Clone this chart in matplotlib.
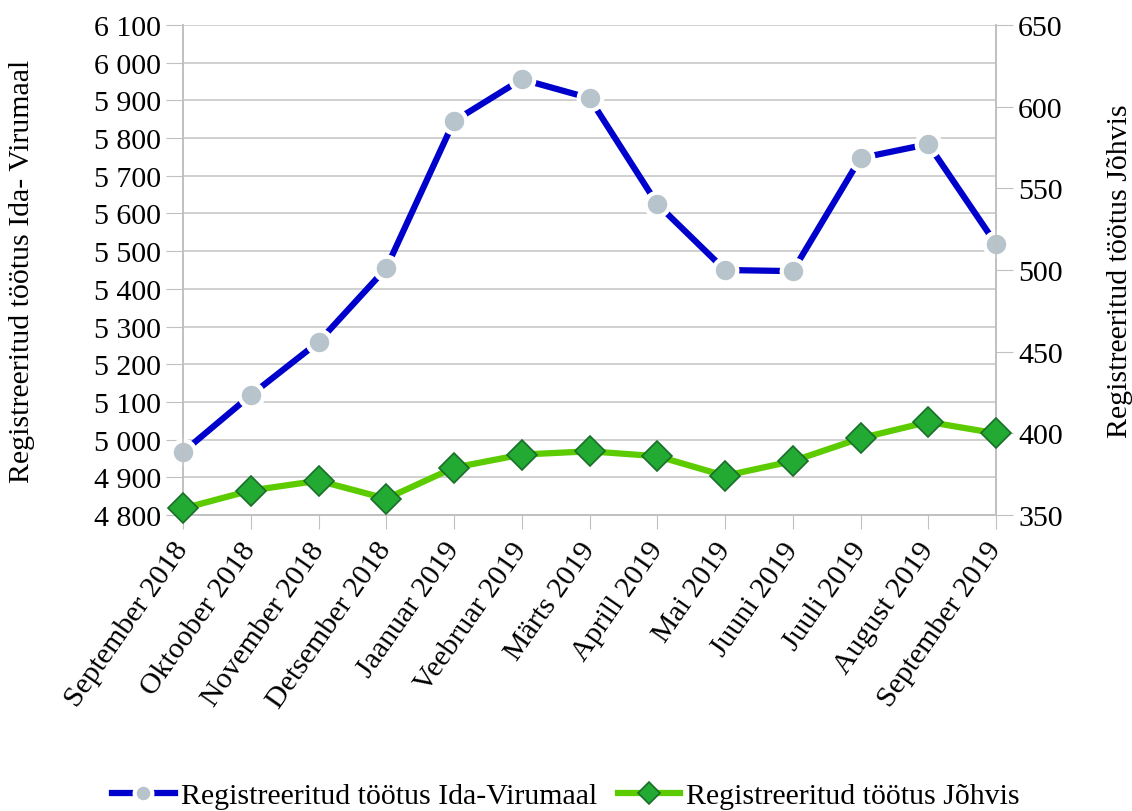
import matplotlib
matplotlib.use("Agg")
import matplotlib.pyplot as plt
from matplotlib.ticker import FuncFormatter, FixedLocator

months = ["September 2018", "Oktoober 2018", "November 2018", "Detsember 2018",
          "Jaanuar 2019", "Veebruar 2019", "Märts 2019", "Aprill 2019",
          "Mai 2019", "Juuni 2019", "Juuli 2019", "August 2019", "September 2019"]
ida_viru = [4967, 5118, 5259, 5455, 5845, 5956, 5906, 5625, 5450, 5447, 5747, 5784, 5519]
johvi = [354, 365, 371, 360, 379, 387, 389, 386, 374, 383, 397, 407, 400]
left_ticks = list(range(4800, 6101, 100))
right_ticks = list(range(350, 651, 50))

plt.rcParams['font.family'] = ['Liberation Serif', 'DejaVu Serif']
fs = 21.5

fig = plt.figure(figsize=(11.32, 8.12), dpi=100)
ax = fig.add_axes([183/1132, 1-516/812, (996-183)/1132, (516-26)/812])
ax2 = ax.twinx()

x = list(range(len(months)))
ax.set_xlim(0, len(months) - 1)
ax.set_ylim(4800, 6100)
ax2.set_ylim(350, 650)
ax.yaxis.set_major_locator(FixedLocator(left_ticks))
ax2.yaxis.set_major_locator(FixedLocator(right_ticks))
ax.yaxis.set_major_formatter(FuncFormatter(lambda v, p: f"{int(v):,}".replace(",", " ")))

ax.grid(axis='y', color='#c8c8c8', lw=1.2)
ax.set_axisbelow(True)
for a in (ax, ax2):
    for s in a.spines.values():
        s.set_color('#c0c0c0')
        s.set_linewidth(1.2)
    a.spines['top'].set_visible(False)
ax.tick_params(axis='y', length=12, color='#c0c0c0', labelsize=fs, pad=4)
ax2.tick_params(axis='y', length=12, color='#c0c0c0', labelsize=fs, pad=4)
ax.tick_params(axis='x', length=10, color='#c0c0c0', labelsize=fs, pad=6)
ax.set_xticks(x)
ax.set_xticklabels(months, rotation=55, ha='right', va='center', rotation_mode='anchor')
for t in ax.get_xticklabels():
    t.set_y(-0.015)

line_b, = ax.plot(x, ida_viru, color='#0000cc', lw=4.5, marker='o', ms=17,
                  markerfacecolor='#b8c4cc', markeredgecolor='white', markeredgewidth=3,
                  label='Registreeritud töötus Ida-Virumaal', zorder=3, clip_on=False)
line_g, = ax2.plot(x, johvi, color='#5ccc00', lw=4.5, marker='D', ms=15,
                   markerfacecolor='#22aa33', markeredgecolor='#1a6e2a', markeredgewidth=1.2,
                   label='Registreeritud töötus Jõhvis', zorder=3, clip_on=False)

ax.set_ylabel('Registreeritud töötus Ida- Virumaal', fontsize=fs)
ax.yaxis.set_label_coords(-0.182, 0.5)
ax2.set_ylabel('Registreeritud töötus Jõhvis', fontsize=fs)
ax2.yaxis.set_label_coords(1.137, 0.5)

fig.legend(handles=[line_b, line_g], loc='center', bbox_to_anchor=(0.5, 1-797/812),
           ncol=2, frameon=False, fontsize=fs, handlelength=2.1, handletextpad=0.2,
           columnspacing=0.7, markerscale=0.75, borderpad=0.1)

fig.savefig('out.png', dpi=100)
